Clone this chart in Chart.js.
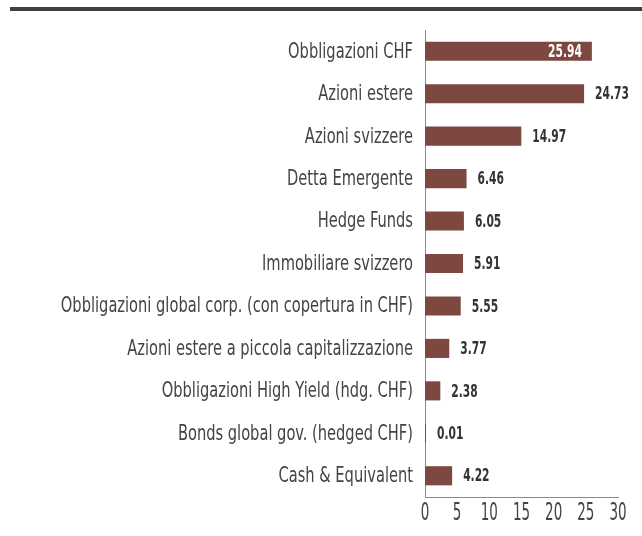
<!DOCTYPE html>
<html><head><meta charset="utf-8">
<script src="https://cdn.jsdelivr.net/npm/chart.js@4"></script>
<style>html,body{margin:0;padding:0;background:#fff}#wrap{position:relative;width:642px;height:536px}
#topline{position:absolute;left:10px;top:7px;width:632px;height:4px;background:#404040}</style>
</head><body><div id="wrap"><div id="topline"></div><canvas id="c" width="642" height="536"></canvas></div>
<script>
const categories = ["Obbligazioni CHF","Azioni estere","Azioni svizzere","Detta Emergente","Hedge Funds","Immobiliare svizzero","Obbligazioni global corp. (con copertura in CHF)","Azioni estere a piccola capitalizzazione","Obbligazioni High Yield (hdg. CHF)","Bonds global gov. (hedged CHF)","Cash & Equivalent"];
const values = [25.94,24.73,14.97,6.46,6.05,5.91,5.55,3.77,2.38,0.01,4.22];
const xTicks = [0,5,10,15,20,25,30];
const FONT = "'DejaVu Sans Condensed','DejaVu Sans',sans-serif";

function squeezed(ctx, text, x, y, sx, align){
  ctx.save();
  ctx.translate(x, y);
  ctx.scale(sx, 1);
  ctx.textAlign = align;
  ctx.fillText(text, 0, 0);
  ctx.restore();
}

const textPlugin = {
  id:'texts',
  afterDraw(chart){
    const ctx = chart.ctx; const meta = chart.getDatasetMeta(0);
    const ys = chart.scales.y, xs = chart.scales.x;
    ctx.save();
    ctx.textBaseline = 'middle';
    ctx.font = "21px " + FONT; ctx.fillStyle = '#444';
    categories.forEach((c,i)=>{ squeezed(ctx, c, 413, ys.getPixelForValue(i)+1, 0.775, 'right'); });
    ctx.font = "25px " + FONT; ctx.fillStyle = '#444';
    xTicks.forEach(v=>{ squeezed(ctx, String(v), xs.getPixelForValue(v), 513, 0.6, 'center'); });
    ctx.font = "bold 18px " + FONT;
    meta.data.forEach((bar,i)=>{
      const t = values[i].toFixed(2);
      if (i===0){ ctx.fillStyle='#fff'; squeezed(ctx, t, bar.x-10, bar.y+1, 0.66, 'right'); }
      else { ctx.fillStyle='#333'; squeezed(ctx, t, bar.x+11, bar.y+1, 0.66, 'left'); }
    });
    ctx.restore();
  }
};

new Chart(document.getElementById('c'), {
  type:'bar',
  data:{labels:categories, datasets:[{data:values, backgroundColor:'#7d4840', barPercentage:0.45, categoryPercentage:1, minBarLength:1}]},
  options:{
    indexAxis:'y', responsive:false, animation:false,
    layout:{padding:{top:30,right:24,left:0,bottom:0}},
    plugins:{legend:{display:false}, tooltip:{enabled:false}},
    scales:{
      y:{grid:{display:false}, border:{display:true,color:'#8a8a8a',width:1},
         ticks:{display:false},
         afterFit(s){ s.width = 425; }},
      x:{min:0,max:30, grid:{display:false}, border:{display:true,color:'#8a8a8a',width:1},
         afterBuildTicks(s){ s.ticks = xTicks.map(v=>({value:v})); },
         ticks:{display:false},
         afterFit(s){ s.height = 39; }}
    }
  },
  plugins:[textPlugin]
});
</script></body></html>
